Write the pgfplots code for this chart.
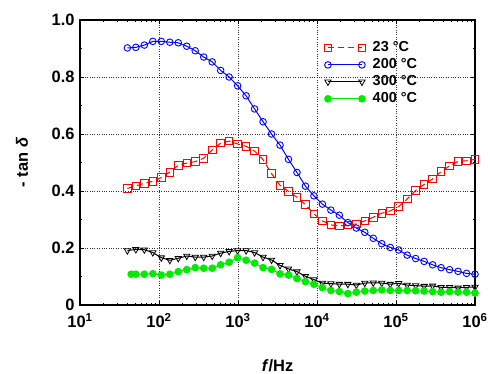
\documentclass[border=0pt]{standalone}
\usepackage{pgfplots}
\pgfplotsset{compat=1.18}
\usepackage{fontspec}
\setmainfont{Liberation Sans}
\definecolor{lgreen}{RGB}{0,235,0}
\begin{document}
\fontsize{16}{19}\selectfont\bfseries
\begin{tikzpicture}[x=1bp,y=1bp]
\begin{axis}[
  at={(0,0)}, anchor=south west,
  scale only axis, width=395bp, height=285bp,
  xmode=log, xmin=10, xmax=1e6, ymin=0, ymax=1,
  xtick={10,100,1000,10000,100000,1000000},
  xticklabels={10\textsuperscript{1},10\textsuperscript{2},10\textsuperscript{3},10\textsuperscript{4},10\textsuperscript{5},10\textsuperscript{6}},
  ytick={0,0.2,0.4,0.6,0.8,1.0},
  yticklabels={0,0.2,0.4,0.6,0.8,1.0},
  minor ytick={0.1,0.3,0.5,0.7,0.9},
  /pgf/number format/assume math mode=true,
  tick label style={font=\fontsize{16.5}{19}\selectfont\bfseries},
  xticklabel style={yshift=-3bp},
  label style={font=\fontsize{16.5}{19}\selectfont\bfseries},
  xlabel={\textit{f}/Hz}, ylabel={- tan \textit{δ}},
  xlabel style={at={(axis description cs:0.5,-0.214)}, anchor=center},
  ylabel style={at={(axis description cs:-0.147,0.5)}, anchor=center},
  axis line style={line width=1.6bp},
  tick style={black, line width=0.8bp},
  major tick length=4bp, minor tick length=2.5bp,
  tick align=inside,
  grid=major,
  major grid style={dotted, black!80, line width=0.9bp},
  legend style={draw=none, fill=none, at={(0.615,0.935)}, anchor=north west,
     font=\fontsize{14.5}{17}\selectfont\bfseries, row sep=0.5bp, inner sep=1bp},
  legend cell align=left,
  legend image code/.code={\draw[mark repeat=2,mark phase=1,#1] plot coordinates {(0cm,0cm) (0.6cm,0cm) (1.2cm,0cm)};},
]
\addplot[red, line width=1bp, dash pattern=on 6bp off 4bp, mark=square, mark size=3.8bp, mark options={solid, line width=0.9bp}] coordinates {
(39.81,0.409)(50.97,0.418)(65.26,0.427)(83.56,0.434)(106.98,0.447)(136.97,0.466)(175.37,0.490)(224.54,0.498)(287.5,0.503)(368.1,0.515)
(471.3,0.544)(603.4,0.568)(772.6,0.575)(989,0.565)(1266,0.557)(1621,0.540)(2076,0.510)(2658,0.461)(3402,0.420)(4356,0.399)
(5578,0.378)(7142,0.352)(9142,0.320)(11706,0.295)(14987,0.281)(19189,0.277)(24566,0.281)(31452,0.284)(40271,0.295)(51560,0.308)
(66008,0.322)(84510,0.330)(108173,0.345)(138520,0.372)(177360,0.402)(227070,0.423)(290700,0.442)(372180,0.468)(476430,0.488)(610180,0.504)
(781200,0.506)(1000000,0.511)};
\addlegendentry{\hspace{5bp}23 °C}
\addplot[blue, line width=1bp, mark=o, mark size=3.3bp, mark options={line width=0.9bp}] coordinates {
(39.81,0.902)(50.97,0.904)(65.26,0.912)(83.56,0.925)(106.98,0.925)(136.97,0.922)(175.37,0.920)(224.54,0.908)(287.5,0.892)(368.1,0.870)
(471.3,0.853)(603.4,0.823)(772.6,0.800)(989,0.769)(1266,0.734)(1621,0.688)(2076,0.643)(2658,0.600)(3402,0.561)(4356,0.511)
(5578,0.465)(7142,0.417)(9142,0.383)(11706,0.354)(14987,0.333)(19189,0.315)(24566,0.289)(31452,0.270)(40271,0.255)(51560,0.234)
(66008,0.215)(84510,0.202)(108173,0.193)(138520,0.175)(177360,0.163)(227070,0.153)(290700,0.141)(372180,0.131)(476430,0.124)(610180,0.118)
(781200,0.111)(1000000,0.108)};
\addlegendentry{\hspace{5bp}200 °C}
\addplot[black, line width=1bp, mark=triangle, mark size=3.6bp, mark options={rotate=180, line width=0.8bp, fill=white}] coordinates {
(39.81,0.191)(50.97,0.195)(65.26,0.194)(83.56,0.184)(106.98,0.166)(136.97,0.157)(175.37,0.164)(224.54,0.172)(287.5,0.168)(368.1,0.168)
(471.3,0.172)(603.4,0.182)(772.6,0.188)(989,0.191)(1266,0.191)(1621,0.184)(2076,0.168)(2658,0.158)(3402,0.139)(4356,0.127)
(5578,0.117)(7142,0.101)(9142,0.089)(11706,0.077)(14987,0.075)(19189,0.073)(24566,0.073)(31452,0.070)(40271,0.077)(51560,0.078)
(66008,0.077)(84510,0.073)(108173,0.076)(138520,0.070)(177360,0.068)(227070,0.066)(290700,0.067)(372180,0.062)(476430,0.062)(610180,0.060)
(781200,0.062)(1000000,0.063)};
\addlegendentry{\hspace{5bp}300 °C}
\addplot[lgreen, line width=1bp, mark=*, mark size=3.3bp, mark options={fill=lgreen, draw=lgreen}] coordinates {
(44.5,0.108)(50.97,0.108)(65.26,0.108)(83.56,0.110)(106.98,0.105)(136.97,0.108)(175.37,0.117)(224.54,0.124)(287.5,0.131)(368.1,0.129)
(471.3,0.129)(603.4,0.141)(772.6,0.150)(989,0.166)(1266,0.157)(1621,0.147)(2076,0.131)(2658,0.125)(3402,0.109)(4356,0.105)
(5578,0.093)(7142,0.082)(9142,0.073)(11706,0.061)(14987,0.051)(19189,0.047)(24566,0.040)(31452,0.045)(40271,0.049)(51560,0.051)
(66008,0.053)(84510,0.051)(108173,0.051)(138520,0.051)(177360,0.050)(227070,0.049)(290700,0.047)(372180,0.045)(476430,0.047)(610180,0.045)
(781200,0.045)(1000000,0.042)};
\addlegendentry{\hspace{5bp}400 °C}
\end{axis}
\pgfresetboundingbox
\path (-80bp,-69bp) rectangle (410bp,305bp);
\end{tikzpicture}
\end{document}
